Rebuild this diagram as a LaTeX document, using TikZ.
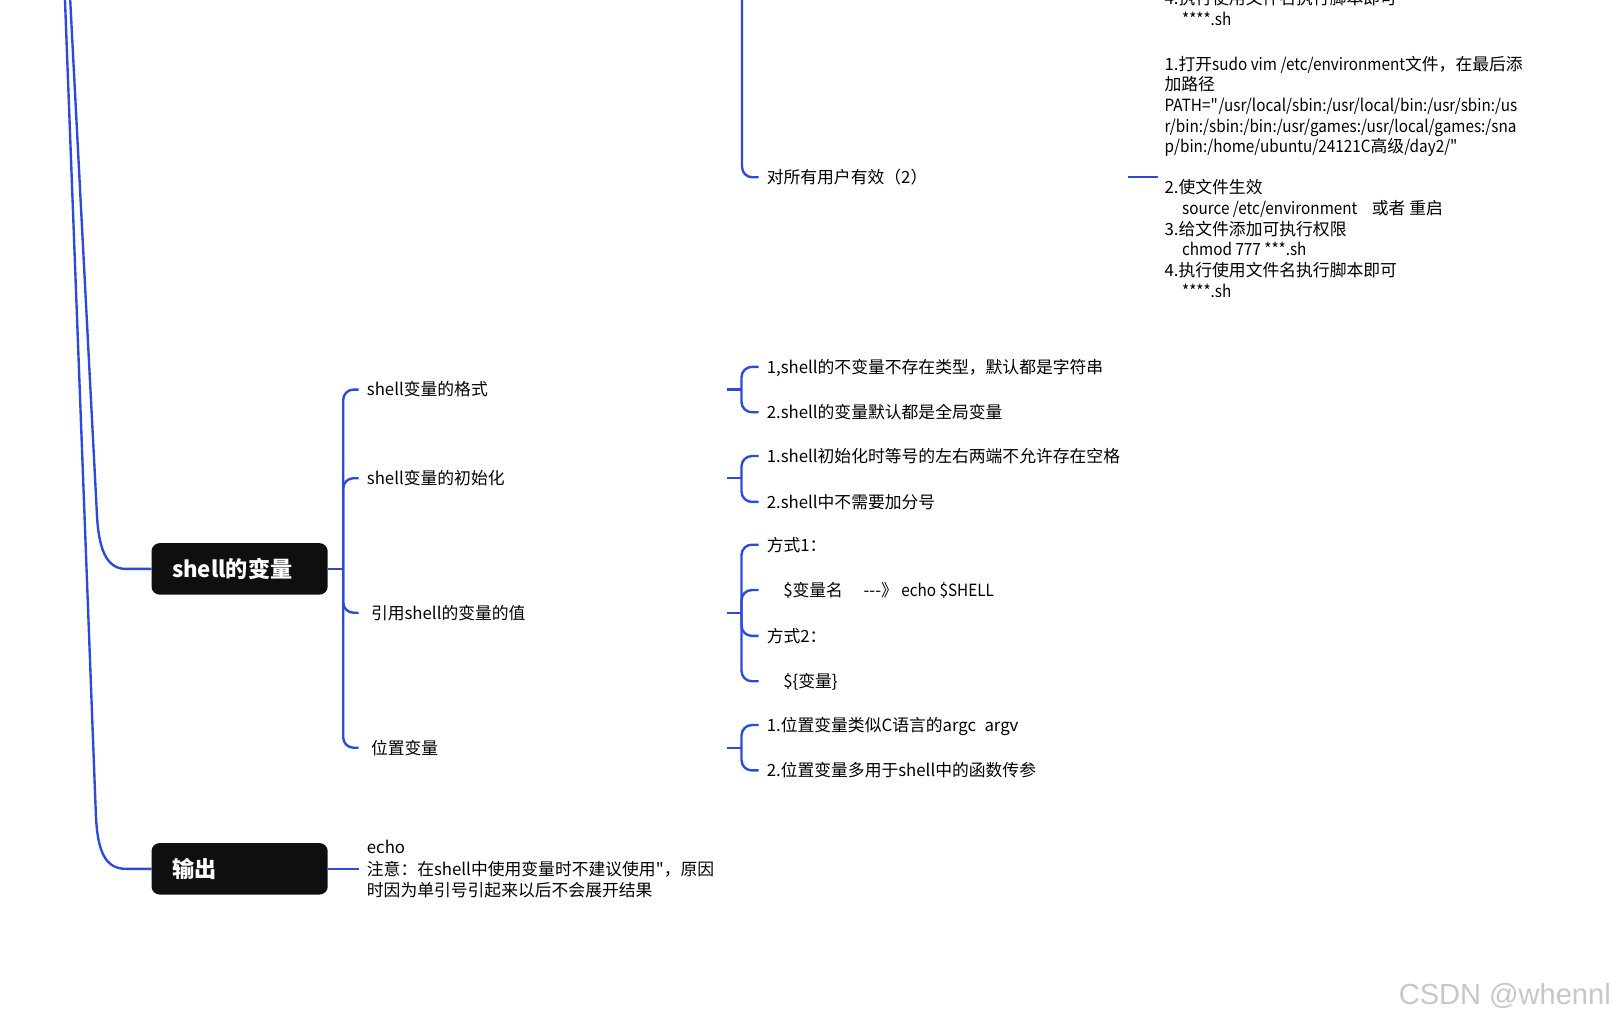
\documentclass[tikz,border=0pt]{standalone}
\usepackage{fontspec}
\setmainfont{Noto Sans CJK SC}
\newfontfamily\latn{Noto Sans CJK SC}[FakeStretch=0.91]
\newfontfamily\wmfont{Liberation Sans}
\definecolor{lineblue}{RGB}{46,74,216}
\definecolor{boxblack}{RGB}{15,15,15}
\begin{document}
\begin{tikzpicture}[x=1pt,y=-1pt,
  conn/.style={draw=lineblue, line width=2.3pt, rounded corners=10pt},
  rootbox/.style={fill=boxblack, rounded corners=8pt, anchor=west, minimum height=50pt,
    text width=131pt, inner xsep=20pt, inner ysep=0pt, align=left, text=white,
    font=\fontsize{21.5}{26}\selectfont\bfseries, outer sep=0pt,
    text height=19pt, text depth=2.6pt},
  txt/.style={anchor=west, inner xsep=8pt, inner ysep=0pt, outer sep=0pt,
    font=\fontsize{16.3}{20}\selectfont, text height=14.3pt, text depth=2pt, align=left},
  blk/.style={anchor=north west, inner xsep=6pt, inner ysep=0pt, outer sep=0pt,
    font=\fontsize{16.3}{20}\selectfont, align=left},
]
\useasboundingbox (0,0) rectangle (1568,991);

% root boxes
\node[rootbox] (shellvar) at (147,552) {shell的变量};
\node[rootbox] (output) at (147,843) {输出};

% lines from the (off-picture) root
\coordinate (rootS) at (67.5,-12);
\coordinate (rootO) at (62.6,-12);
\draw[conn, sharp corners] (rootS) -- (94,498) .. controls (95.5,532) and (103,552) .. (122,552) -- (shellvar.west);
\draw[conn, sharp corners] (rootO) -- (93,790) .. controls (94.5,826) and (102,843) .. (122,843) -- (output.west);

% level 2
\node[txt, text width=341pt] (fmt) at (348,378) {shell变量的格式};
\node[txt, text width=341pt] (init) at (348,464) {shell变量的初始化};
\node[txt, text width=341pt] (ref) at (348,594.5) {\hspace*{4pt}引用shell的变量的值};
\node[txt, text width=341pt] (pos) at (348,725.5) {\hspace*{4pt}位置变量};
\coordinate (j0) at (333,552);
\draw[conn] (shellvar.east) -- (j0);
\foreach \c in {fmt,init,ref,pos} \draw[conn] (j0) |- (\c.west);

% level 3: format
\node[txt] (f1) at (736,356) {1,shell的不变量不存在类型，默认都是字符串};
\node[txt] (f2) at (736,400) {2.shell的变量默认都是全局变量};
\coordinate (jf) at (719.5,378);
\draw[conn] (fmt.east) -- (jf);
\foreach \c in {f1,f2} \draw[conn] (jf) |- (\c.west);

% level 3: init
\node[txt] (i1) at (736,442.5) {1.shell初始化时等号的左右两端不允许存在空格};
\node[txt] (i2) at (736,487) {2.shell中不需要加分号};
\coordinate (ji) at (719.5,464);
\draw[conn] (init.east) -- (ji);
\foreach \c in {i1,i2} \draw[conn] (ji) |- (\c.west);

% level 3: reference
\node[txt] (r1) at (736,528.5) {方式1：};
\node[txt] (r2) at (736,572.5) {\hspace*{16pt}\$变量名\hspace*{20pt}-{}-{}-》{\latn\ echo \$SHELL}};
\node[txt] (r3) at (736,617) {方式2：};
\node[txt] (r4) at (736,661) {\hspace*{16pt}\$\{变量\}};
\coordinate (jr) at (719.5,594.5);
\draw[conn] (ref.east) -- (jr);
\foreach \c in {r1,r2,r3,r4} \draw[conn] (jr) |- (\c.west);

% level 3: positional
\node[txt] (p1) at (736,703.5) {1.位置变量类似C语言的argc\hspace*{8pt}argv};
\node[txt] (p2) at (736,747.5) {2.位置变量多用于shell中的函数传参};
\coordinate (jp) at (719.5,725.5);
\draw[conn] (pos.east) -- (jp);
\foreach \c in {p1,p2} \draw[conn] (jp) |- (\c.west);

% top part
\node[txt, text width=342pt] (allusers) at (736,172) {对所有用户有效（2）};
\coordinate (topin) at (720,-12);
\draw[conn] (topin) |- (allusers.west);

\node[blk] (stepscur) at (1124,-10.7) {\rule{0pt}{15pt}4.执行使用文件名执行脚本即可\\
\hspace*{17pt}{\latn ****.sh}};

\node[blk] (stepsall) at (1124,53.2) {\rule{0pt}{15pt}1.打开{\latn sudo vim /etc/environment}文件，在最后添\\
加路径\\
{\latn PATH=\textquotedbl/usr/local/sbin:/usr/local/bin:/usr/sbin:/us}\\
{\latn r/bin:/sbin:/bin:/usr/games:/usr/local/games:/sna}\\
{\latn p/bin:/home/ubuntu/24121C}高级{\latn /day2/\textquotedbl}\\[20pt]
2.使文件生效\\
\hspace*{17pt}{\latn source /etc/environment}\hspace*{14pt}或者 重启\\
3.给文件添加可执行权限\\
\hspace*{17pt}{\latn chmod 777 ***.sh}\\
4.执行使用文件名执行脚本即可\\
\hspace*{17pt}{\latn ****.sh}};
\draw[conn] (allusers.east) -- (allusers.east -| stepsall.west);

% output
\node[blk, inner xsep=8pt, font=\fontsize{16.3}{21}\selectfont] (outtxt) at (348,813.2) {\rule{0pt}{15pt}echo\\
注意：在shell中使用变量时不建议使用\textquotedbl，原因\\
时因为单引号引起来以后不会展开结果};
\draw[conn] (output.east) -- (output.east -| outtxt.west);

% watermark
\node[anchor=base west, inner sep=0pt, text=black!22, font=\wmfont\fontsize{28.2}{30}\selectfont] (wm) at (1357,975) {CSDN @whennl};
\end{tikzpicture}
\end{document}
